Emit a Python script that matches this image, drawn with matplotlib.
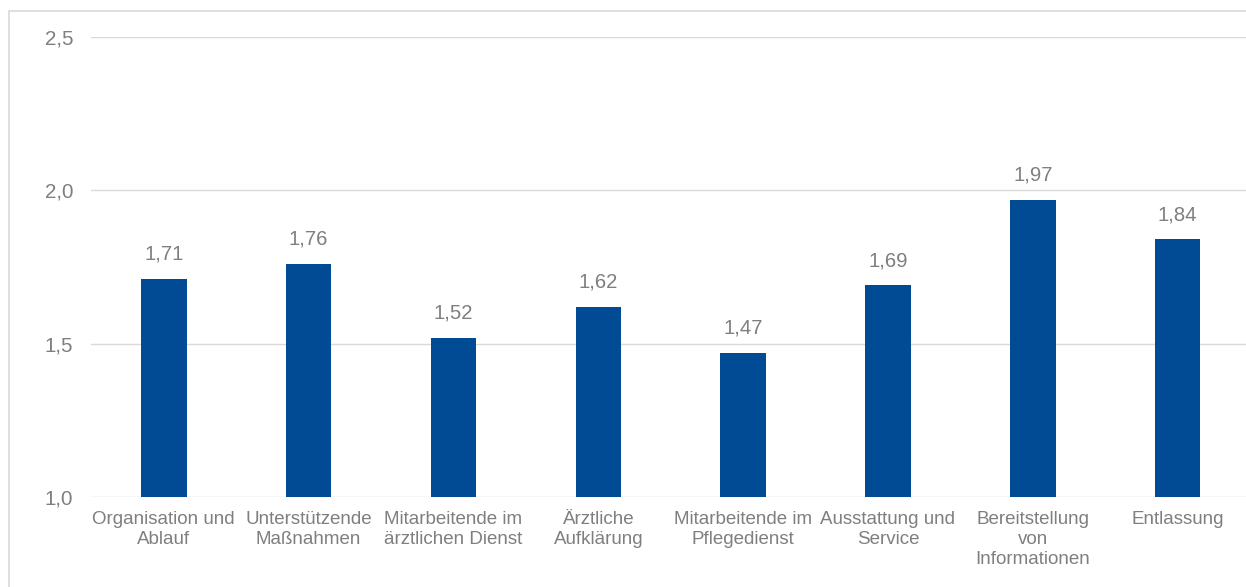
import matplotlib
matplotlib.use('Agg')
import matplotlib.pyplot as plt
from matplotlib.patches import Rectangle
from matplotlib.ticker import FuncFormatter

plt.rcParams['font.family'] = ['Liberation Sans', 'DejaVu Sans']

# data
categories = ['Organisation und\nAblauf', 'Unterstützende\nMaßnahmen',
              'Mitarbeitende im\närztlichen Dienst', 'Ärztliche\nAufklärung',
              'Mitarbeitende im\nPflegedienst', 'Ausstattung und\nService',
              'Bereitstellung\nvon\nInformationen', 'Entlassung']
values = [1.71, 1.76, 1.52, 1.62, 1.47, 1.69, 1.97, 1.84]
y_ticks = [1.0, 1.5, 2.0, 2.5]

text_color = '#7f7f7f'
grid_color = '#d9d9d9'
bar_color = '#004b93'

W, H = 1246, 587
fig = plt.figure(figsize=(W / 100, H / 100), dpi=100)

# outer frame (cropped at right and bottom in the original)
fig.patches.append(Rectangle((8.7 / W, -0.1), 2.0, (H - 11.3) / H + 0.1,
                             transform=fig.transFigure, fill=False,
                             edgecolor=grid_color, linewidth=1.2))

ax = fig.add_axes([91.4 / W, (H - 497) / H, (1250 - 91.4) / W, (497 - 37) / H])

x = range(len(categories))
bars = ax.bar(x, values, width=0.314, color=bar_color, zorder=3)

ax.set_ylim(1.0, 2.5)
ax.set_xlim(-0.5, len(categories) - 0.5)
ax.set_yticks(y_ticks)
ax.yaxis.set_major_formatter(FuncFormatter(lambda v, p: f'{v:.1f}'.replace('.', ',')))
ax.set_xticks(list(x))
ax.set_xticklabels(categories, linespacing=1.22)

ax.tick_params(axis='both', length=0, labelcolor=text_color)
ax.tick_params(axis='y', pad=13, labelsize=14.8)
ax.tick_params(axis='x', pad=10, labelsize=13.5)

ax.grid(axis='y', color=grid_color, linewidth=1.0, zorder=0)
for s in ax.spines.values():
    s.set_visible(False)

for b, v in zip(bars, values):
    ax.annotate(f'{v:.2f}'.replace('.', ','), (b.get_x() + b.get_width() / 2, v),
                xytext=(0, 11), textcoords='offset points', ha='center', va='bottom',
                fontsize=14.6, color=text_color)

fig.savefig('out.png', dpi=100)
